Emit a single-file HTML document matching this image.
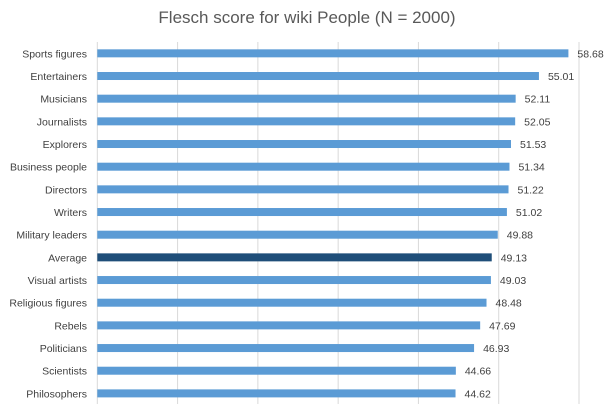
<!DOCTYPE html>
<html><head><meta charset="utf-8"><style>
body{margin:0;background:#fff;}
svg{display:block;font-family:"Liberation Sans",sans-serif;}
</style></head><body>
<svg id="c" width="615" height="408">
<text x="307" y="23" text-anchor="middle" font-size="17" fill="#595959">Flesch score for wiki People (N = 2000)</text>
<g id="grid"></g><g id="bars"></g>
</svg>
<script>
const categories=["Sports figures","Entertainers","Musicians","Journalists","Explorers","Business people","Directors","Writers","Military leaders","Average","Visual artists","Religious figures","Rebels","Politicians","Scientists","Philosophers"];
const values=[58.68,55.01,52.11,52.05,51.53,51.34,51.22,51.02,49.88,49.13,49.03,48.48,47.69,46.93,44.66,44.62];
const ticks=[0,10,20,30,40,50,60];
const x0=97.3,x1=579,xmax=60,topY=42,rowH=22.67;
const xs=v=>x0+(x1-x0)*v/xmax;
const ys=i=>topY+rowH*(i+0.5);
const NS="http://www.w3.org/2000/svg";
const g=document.getElementById('grid'),b=document.getElementById('bars');
ticks.forEach(t=>{const l=document.createElementNS(NS,'line');
l.setAttribute('x1',xs(t));l.setAttribute('x2',xs(t));l.setAttribute('y1',topY);l.setAttribute('y2',404);
l.setAttribute('stroke','#d9d9d9');l.setAttribute('stroke-width','1');


g.appendChild(l);});
categories.forEach((c,i)=>{const y=ys(i);
const r=document.createElementNS(NS,'rect');
r.setAttribute('x',xs(0));r.setAttribute('y',y-4);r.setAttribute('width',xs(values[i])-xs(0));r.setAttribute('height',8);
r.setAttribute('fill',c==="Average"?'#1f4e79':'#5b9bd5');


b.appendChild(r);
const t=document.createElementNS(NS,'text');
t.setAttribute('x',87);t.setAttribute('y',y+4);t.setAttribute('text-anchor','end');t.setAttribute('font-size','10.5');t.setAttribute('fill','#404040');
t.textContent=c;


b.appendChild(t);
const v=document.createElementNS(NS,'text');
v.setAttribute('x',xs(values[i])+9);v.setAttribute('y',y+4);v.setAttribute('font-size','10.5');v.setAttribute('fill','#404040');
v.textContent=values[i].toFixed(2);


b.appendChild(v);});
</script>
</body></html>
